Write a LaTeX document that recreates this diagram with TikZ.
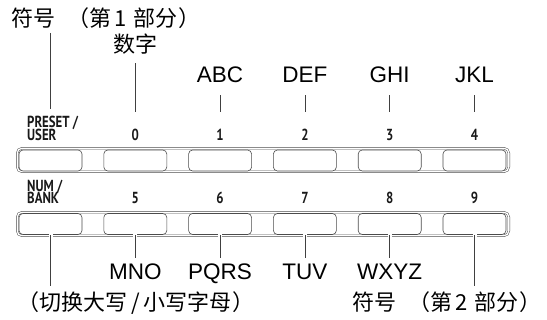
\documentclass[tikz,border=0pt]{standalone}
\usepackage{fontspec}
\setmainfont{Liberation Sans}
\newfontfamily\cjk{Noto Sans CJK SC}
\newfontfamily\keyf[FakeStretch=0.8]{PT Sans}
\begin{document}
\begin{tikzpicture}[x=1pt,y=-1pt,
  lat/.style={inner sep=0pt, anchor=base, font=\fontsize{22.5}{24}\selectfont},
  han/.style={inner sep=0pt, font=\cjk\fontsize{22}{24}\selectfont},
  keylab/.style={inner sep=0pt, text=black!90, font=\keyf\bfseries\fontsize{16}{12}\selectfont},
  frame/.style={draw=black!70, line width=0.5pt, double=white, double distance=1.3pt,
    rounded corners=5pt, minimum width=491.7pt, minimum height=23.6pt, inner sep=0pt},
  btn/.style={draw=black!70, fill=white, line width=0.6pt, rounded corners=4pt,
    minimum width=63pt, minimum height=21pt, inner sep=0pt},
  conn/.style={draw=black!75, line width=0.65pt},
  gap/.style={draw=white, line width=4pt}
]
\useasboundingbox (0,0) rectangle (547,320);

% frames
\node[frame] (f1) at (263,160) {};
\node[frame] (f2) at (263,224) {};

% buttons
\foreach \i/\x in {0/50.5,1/135.3,2/220.1,3/304.9,4/389.7,5/474.5}{
  \node[btn] (b\i) at (\x,160.5) {};
  \node[btn] (c\i) at (\x,224) {};
}

% key labels
\node[keylab, anchor=base west] (pre1) at (27,128) {PRESET /};
\node[keylab, anchor=base west] (pre2) at (27,140.5) {USER};
\node[keylab, anchor=base west] (num1) at (27,192) {NUM /};
\node[keylab, anchor=base west] (num2) at (27,204) {BANK};
\foreach \i/\t in {1/0,2/1,3/2,4/3,5/4}{
  \node[keylab, anchor=base] (d\i) at (b\i |- 0,140.5) {\t};
}
\foreach \i/\t in {1/5,2/6,3/7,4/8,5/9}{
  \node[keylab, anchor=base] (e\i) at (c\i |- 0,204) {\t};
}

% top labels
\node[han, anchor=base west] (sym1) at (11,26.5) {符号\hspace{12pt}（第\hspace{3pt}1\hspace{7pt}部分\hspace{1pt}）};
\node[han, anchor=base] (numl) at (135.3,53) {数字};
\node[lat] (abc) at (220.1,83) {ABC};
\node[lat] (def) at (304.9,83) {DEF};
\node[lat] (ghi) at (389.7,83) {GHI};
\node[lat] (jkl) at (474.5,83) {JKL};

% bottom labels
\node[lat] (mno) at (135.3,280) {MNO};
\node[lat] (pqrs) at (220.1,280) {PQRS};
\node[lat] (tuv) at (304.9,280) {TUV};
\node[lat] (wxyz) at (389.7,280) {WXYZ};
\node[han, anchor=base west] (case) at (17,311) {（切换大写\hspace{4pt}/\hspace{4pt}小写字母\hspace{1pt}）};
\node[han, anchor=base west] (sym2) at (352,311) {符号\hspace{12pt}（第\hspace{3pt}2\hspace{7pt}部分\hspace{1pt}）};

% top connectors
\draw[conn, shorten <=4pt, shorten >=7pt] (b0 |- sym1.south) -- (b0 |- pre1.north);
\draw[conn, shorten <=8pt, shorten >=4pt] (numl.south) -- (b1 |- pre1.north);
\foreach \n/\i in {abc/2,def/3,ghi/4,jkl/5}{
  \draw[conn, shorten <=12pt, shorten >=4pt] (\n.south) -- (b\i |- pre1.north);
}

% bottom connectors
\foreach \i in {0,...,5}{
  \draw[gap] ([yshift=1pt]c\i.south) -- ([yshift=-4pt]c\i.south);
}
\draw[conn, shorten >=6pt] (c0.south) -- (c0 |- case.north);
\draw[conn, shorten >=6pt] (c1.south) -- (mno.north);
\draw[conn, shorten >=6pt] (c2.south) -- (pqrs.north);
\draw[conn, shorten >=6pt] (c3.south) -- (tuv.north);
\draw[conn, shorten >=6pt] (c4.south) -- (wxyz.north);
\draw[conn, shorten >=6pt] (c5.south) -- (c5 |- sym2.north);
\end{tikzpicture}
\end{document}
